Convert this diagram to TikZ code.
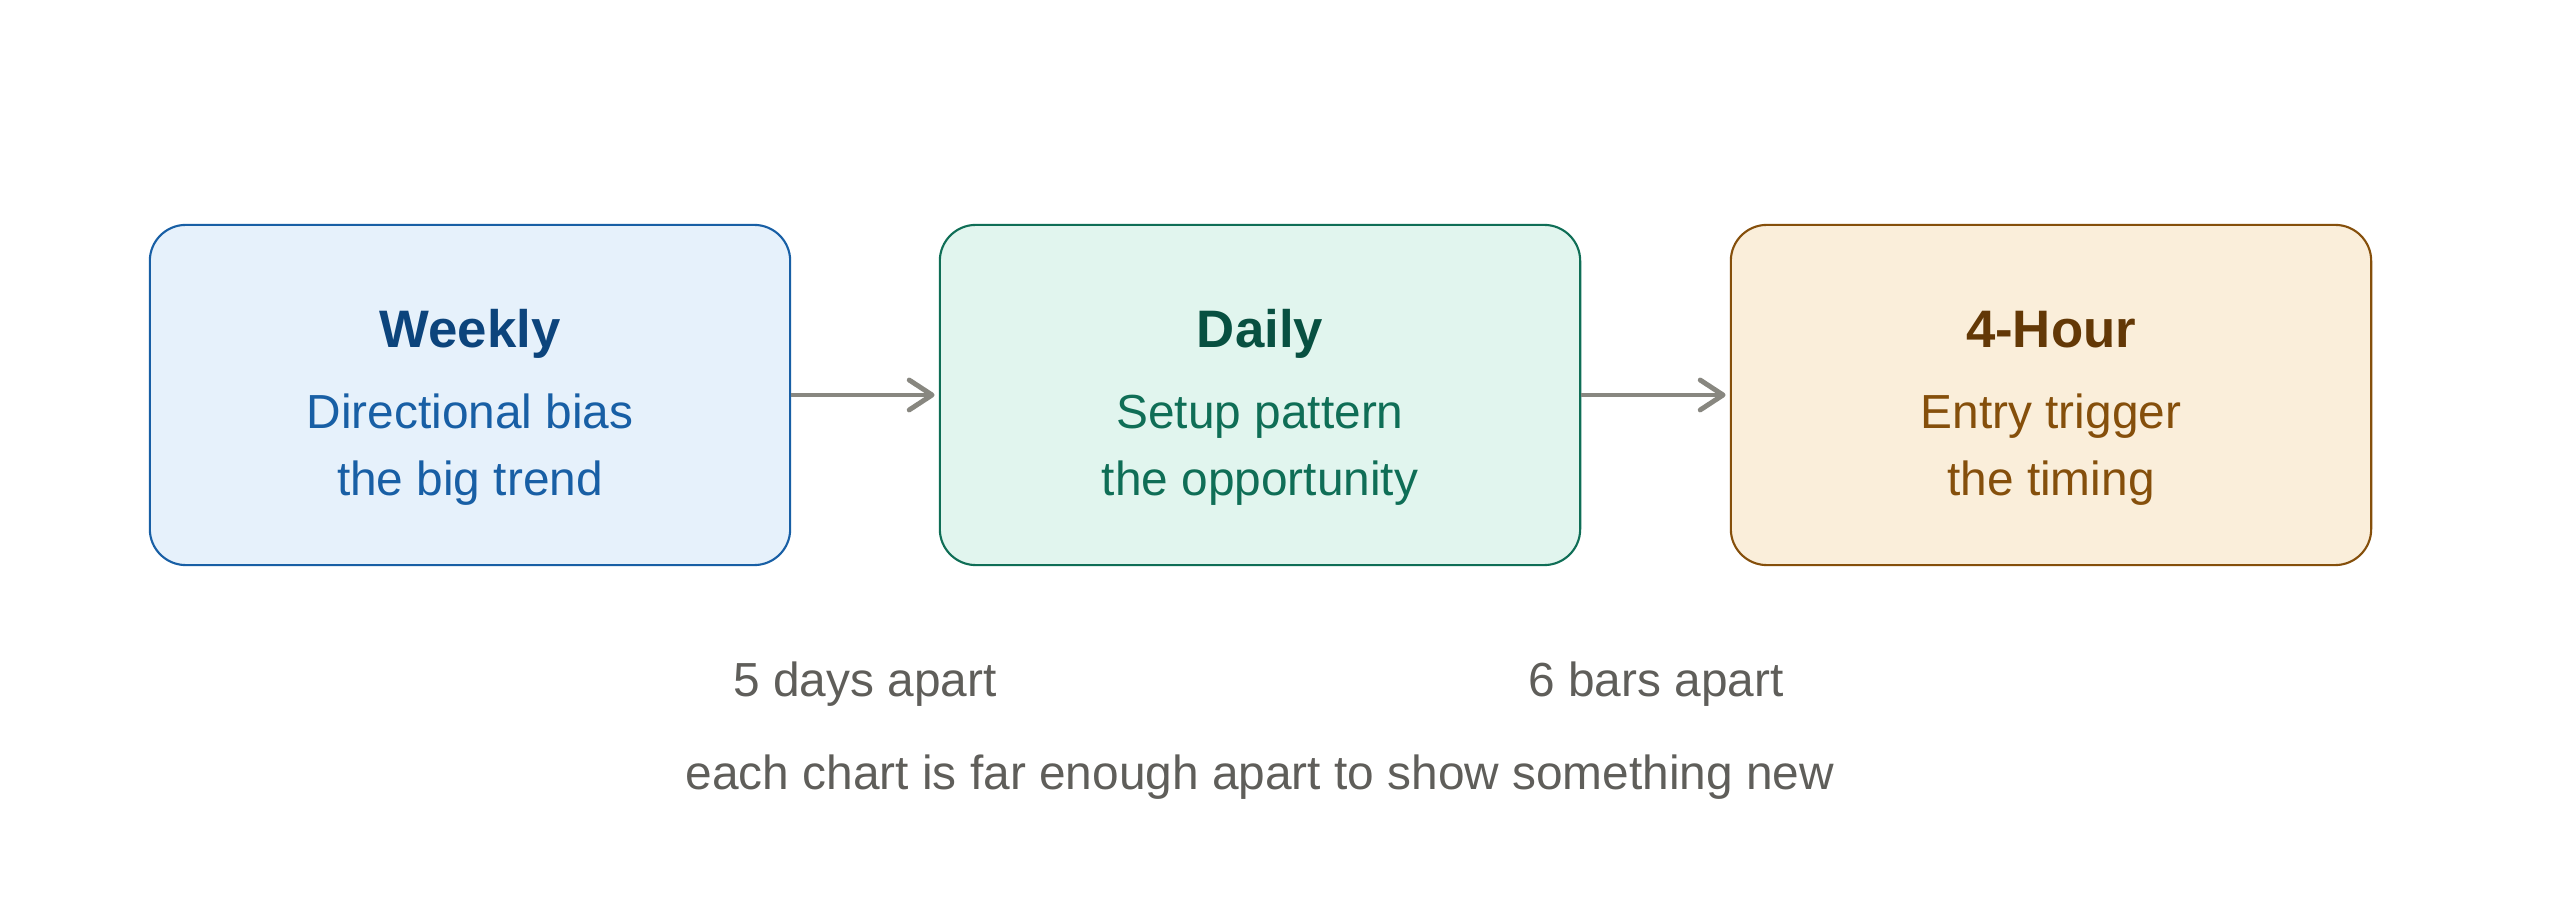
\documentclass[tikz,border=0pt]{standalone}
\usepackage{fontspec}
\setmainfont{Liberation Sans}
\usetikzlibrary{arrows.meta}
\definecolor{bfill}{HTML}{E6F1FB}\definecolor{bline}{HTML}{185FA5}\definecolor{btitle}{HTML}{0C447C}
\definecolor{gfill}{HTML}{E1F5EE}\definecolor{gline}{HTML}{0F6E56}\definecolor{gtitle}{HTML}{085041}
\definecolor{ofill}{HTML}{FAEEDA}\definecolor{oline}{HTML}{854F0B}\definecolor{otitle}{HTML}{633806}
\definecolor{graytext}{HTML}{5F5E5A}\definecolor{arrowgray}{HTML}{888780}
\tikzset{
  card/.style={rectangle, rounded corners=0.36cm, line width=0.6pt, minimum width=6.4cm, minimum height=3.4cm, inner sep=0pt},
  ttl/.style={anchor=base, font=\fontsize{15}{18}\selectfont\bfseries, inner sep=0pt},
  sub/.style={anchor=base, font=\fontsize{13.6}{16}\selectfont, inner sep=0pt},
  note/.style={anchor=base, font=\fontsize{13.6}{16}\selectfont, text=graytext, inner sep=0pt},
  conn/.style={draw=arrowgray, line width=1.4pt, -{Straight Barb[length=6.5pt,width=8.5pt,line cap=round,line join=round]}, shorten >=1.2pt}
}
\begin{document}
\begin{tikzpicture}[x=0.01cm,y=-0.01cm]
\useasboundingbox (0,0) rectangle (2560,904);
\node[card, fill=bfill, draw=bline] (weekly) at (470,395) {};
\node[card, fill=gfill, draw=gline] (daily) at (1260,395) {};
\node[card, fill=ofill, draw=oline] (hour) at (2051,395) {};
\node[ttl, text=btitle] (wt) at (470,348) {Weekly};
\node[sub, text=bline] (ws1) at (470,429) {Directional bias};
\node[sub, text=bline] (ws2) at (470,496) {the big trend};
\node[ttl, text=gtitle] (dt) at (1260,348) {Daily};
\node[sub, text=gline] (ds1) at (1260,429) {Setup pattern};
\node[sub, text=gline] (ds2) at (1260,496) {the opportunity};
\node[ttl, text=otitle] (ht) at (2051,348) {4-Hour};
\node[sub, text=oline] (hs1) at (2051,429) {Entry trigger};
\node[sub, text=oline] (hs2) at (2051,496) {the timing};
\draw[conn] (weekly.east) -- (daily.west);
\draw[conn] (daily.east) -- (hour.west);
\node[note] (n1) at (865,697) {5 days apart};
\node[note] (n2) at (1656,697) {6 bars apart};
\node[note] (n3) at (1260,790) {each chart is far enough apart to show something new};
\end{tikzpicture}
\end{document}
